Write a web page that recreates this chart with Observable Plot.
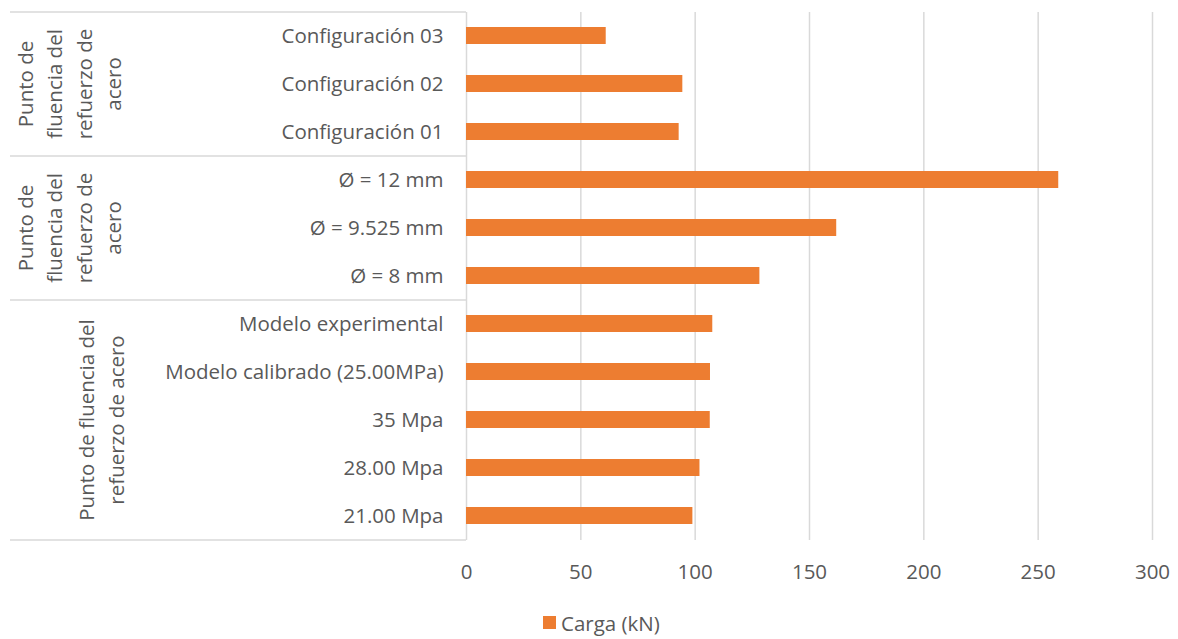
<!DOCTYPE html>
<html><head><meta charset="utf-8">
<script src="https://cdn.jsdelivr.net/npm/d3@7"></script>
<script src="https://cdn.jsdelivr.net/npm/@observablehq/plot@0.6"></script>
<style>
body{margin:0;background:#fff;font-family:"Open Sans",sans-serif;}
#chart svg{display:block;}
#legend{position:relative;height:45px;margin-left:543px;display:flex;align-items:center;color:#595959;font-size:20.5px;font-family:"Open Sans",sans-serif;}
#legend .sw{display:inline-block;width:13px;height:13px;background:#ED7D31;margin-right:5px;}
</style></head><body>
<div id="chart"></div>
<div id="legend"><span class="sw"></span><span id="legtext"></span></div>
<script>
const categories = ["Configuración 03","Configuración 02","Configuración 01","Ø = 12 mm","Ø = 9.525 mm","Ø = 8 mm","Modelo experimental","Modelo calibrado (25.00MPa)","35 Mpa","28.00 Mpa","21.00 Mpa"];
const values = [61.1, 94.6, 93.0, 259, 161.9, 128.3, 107.7, 106.7, 106.6, 102.1, 99.0];
const groupLabels = ["Punto de\nfluencia del\nrefuerzo de\nacero", "Punto de\nfluencia del\nrefuerzo de\nacero", "Punto de fluencia del\nrefuerzo de acero"];
const groupSizes = [3, 3, 5];
const xTicks = [0, 50, 100, 150, 200, 250, 300];
const seriesName = "Carga (kN)";

const data = categories.map((c, i) => ({category: c, value: values[i]}));
let start = 0;
const groups = groupLabels.map((label, gi) => {
  const mid = categories[start + Math.floor(groupSizes[gi] / 2)];
  start += groupSizes[gi];
  return {label, mid, wide: gi === 2};
});

function separators(index, scales, vals, dims) {
  const top = dims.marginTop, bottom = dims.height - dims.marginBottom;
  const step = (bottom - top) / categories.length;
  const g = d3.create("svg:g").attr("stroke", "#d9d9d9").attr("stroke-width", 1.5);
  let acc = 0; const ys = [0];
  groupSizes.forEach(s => { acc += s; ys.push(acc); });
  for (const i of ys) {
    const yy = top + i * step;
    g.append("line").attr("x1", 10).attr("x2", dims.marginLeft).attr("y1", yy).attr("y2", yy);
  }
  return g.node();
}

const chart = Plot.plot({
  width: 1178,
  height: 600,
  marginLeft: 466,
  marginRight: 26,
  marginTop: 12,
  marginBottom: 60,
  style: {fontFamily: "Open Sans, sans-serif", fontSize: "20.5px", color: "#595959", background: "#fff"},
  x: {domain: [0, 300], ticks: xTicks, label: null, tickSize: 0, tickPadding: 24},
  y: {domain: categories, paddingInner: 0.64, paddingOuter: 0.32, label: null, tickSize: 0, tickPadding: 23},
  marks: [
    Plot.ruleX(xTicks, {stroke: "#d9d9d9", strokeWidth: 1.5}),
    separators,
    Plot.barX(data, {x: "value", y: "category", fill: "#ED7D31"}),
    Plot.text(groups.filter(d => !d.wide), {y: "mid", text: "label", frameAnchor: "left", textAnchor: "middle", lineAnchor: "middle", dx: -399, rotate: -90, lineHeight: 1.44, fill: "#595959", fontSize: 20.5}),
    Plot.text(groups.filter(d => d.wide), {y: "mid", text: "label", frameAnchor: "left", textAnchor: "middle", lineAnchor: "middle", dx: -367, rotate: -90, lineHeight: 1.44, fill: "#595959", fontSize: 20.5})
  ]
});
document.getElementById("chart").appendChild(chart);
document.getElementById("legtext").textContent = seriesName;
</script>
</body></html>
